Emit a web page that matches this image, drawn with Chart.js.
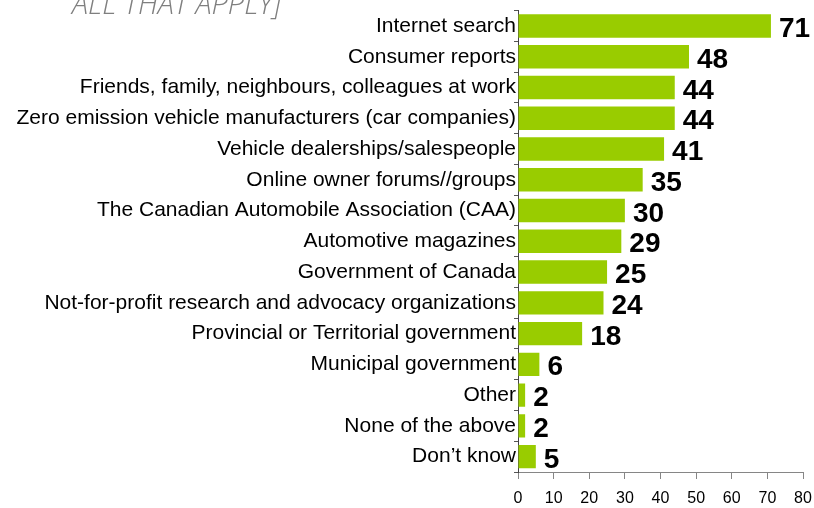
<!DOCTYPE html>
<html lang="en">
<head>
    <meta charset="UTF-8">
    <title>Information sources</title>
    <script src="https://cdn.jsdelivr.net/npm/chart.js"></script>
    <style>
        body {
            margin: 0;
            background: #ffffff;
        }
        #wrap {
            position: relative;
            width: 814px;
            height: 508px;
        }
    </style>
</head>
<body>
    <div id="wrap">
        <canvas id="sourcesChart" width="814" height="508"></canvas>
    </div>

    <script>
        const categories = [
            'Internet search',
            'Consumer reports',
            'Friends, family, neighbours, colleagues at work',
            'Zero emission vehicle manufacturers (car companies)',
            'Vehicle dealerships/salespeople',
            'Online owner forums//groups',
            'The Canadian Automobile Association (CAA)',
            'Automotive magazines',
            'Government of Canada',
            'Not-for-profit research and advocacy organizations',
            'Provincial or Territorial government',
            'Municipal government',
            'Other',
            'None of the above',
            'Don\u2019t know'
        ];
        const percentages = [71, 48, 44, 44, 41, 35, 30, 29, 25, 24, 18, 6, 2, 2, 5];
        const xTicks = [0, 10, 20, 30, 40, 50, 60, 70, 80];
        const subtitleText = 'ALL THAT APPLY]';

        // cut-off question text at the top and bold numbers next to each bar
        const annotate = {
            id: 'annotate',
            afterDatasetsDraw(chart) {
                const ctx = chart.ctx;
                ctx.save();
                ctx.fillStyle = '#7f7f7f';
                ctx.font = 'italic 300 29px "Open Sans"';
                ctx.textAlign = 'left';
                ctx.textBaseline = 'alphabetic';
                ctx.fillText(subtitleText, 72, 14);

                ctx.fillStyle = '#000000';
                ctx.font = 'bold 28px "Liberation Sans", Arial, sans-serif';
                chart.getDatasetMeta(0).data.forEach((bar, i) => {
                    ctx.fillText(String(percentages[i]), bar.x + 8, bar.y + 11);
                });
                ctx.restore();
            }
        };

        new Chart(document.getElementById('sourcesChart'), {
            type: 'bar',
            data: {
                labels: categories,
                datasets: [{
                    data: percentages,
                    backgroundColor: '#99cc00',
                    barPercentage: 0.76,
                    categoryPercentage: 1.0
                }]
            },
            options: {
                indexAxis: 'y',
                responsive: false,
                animation: false,
                layout: {
                    padding: { top: 10, right: 0, bottom: 0, left: 0 }
                },
                plugins: {
                    legend: { display: false },
                    tooltip: { enabled: false }
                },
                scales: {
                    x: {
                        min: 0,
                        max: 80,
                        afterBuildTicks(scale) {
                            scale.ticks = xTicks.map(v => ({ value: v }));
                        },
                        afterFit(scale) {
                            scale.height = 36;
                            scale.paddingRight = 11;
                        },
                        grid: {
                            drawOnChartArea: false,
                            tickLength: 7,
                            color: '#868686'
                        },
                        border: { color: '#868686' },
                        ticks: {
                            color: '#000000',
                            padding: 10,
                            maxRotation: 0,
                            font: { family: '"Liberation Sans", Arial', size: 16 }
                        }
                    },
                    y: {
                        afterFit(scale) {
                            scale.width = 518;
                        },
                        grid: {
                            drawOnChartArea: false,
                            tickLength: 4,
                            offset: true,
                            color: '#555555'
                        },
                        border: { color: '#444444' },
                        ticks: {
                            color: '#000000',
                            padding: -2,
                            autoSkip: false,
                            font: { family: '"Liberation Sans", Arial', size: 21 }
                        }
                    }
                }
            },
            plugins: [annotate]
        });
    </script>
</body>
</html>
